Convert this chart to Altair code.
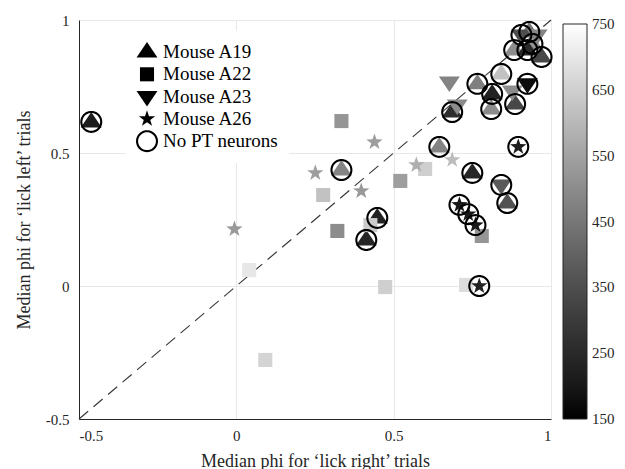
import altair as alt
import pandas as pd
import numpy as np

# ---------------- data ----------------
# Mouse A19 (triangle up)
a19_x = [-0.461, 0.334, 0.448, 0.413, 0.645, 0.750, 0.861, 0.686, 0.766, 0.842,
         0.813, 0.810, 0.886, 0.883, 0.931, 0.941, 0.925, 0.970]
a19_y = [0.617, 0.436, 0.256, 0.173, 0.523, 0.425, 0.312, 0.654, 0.760, 0.797,
         0.722, 0.665, 0.684, 0.887, 0.955, 0.910, 0.887, 0.861]
a19_v = [210, 480, 230, 240, 480, 240, 360, 260, 470, 620,
         230, 500, 330, 500, 450, 520, 250, 330]
a19_ring = [True] * 18

# Mouse A22 (square)
a22_x = [0.334, 0.276, 0.321, 0.426, 0.521, 0.600, 0.473, 0.041, 0.092, 0.780, 0.730]
a22_y = [0.620, 0.342, 0.207, 0.229, 0.395, 0.440, -0.004, 0.060, -0.278, 0.188, 0.004]
a22_v = [520, 620, 500, 640, 540, 650, 650, 700, 660, 520, 680]
a22_ring = [False] * 11

# Mouse A23 (triangle down)
a23_x = [0.677, 0.702, 0.877, 0.842, 0.925, 0.906, 0.956]
a23_y = [0.767, 0.680, 0.733, 0.380, 0.760, 0.944, 0.944]
a23_v = [480, 500, 500, 380, 170, 350, 480]
a23_ring = [False, False, False, True, True, True, False]

# Mouse A26 (star)
a26_x = [-0.006, 0.251, 0.397, 0.439, 0.572, 0.686, 0.896, 0.709, 0.737, 0.760, 0.772]
a26_y = [0.214, 0.425, 0.357, 0.541, 0.455, 0.474, 0.523, 0.305, 0.270, 0.229, 0.000]
a26_v = [530, 540, 530, 540, 580, 610, 220, 200, 200, 200, 230]
a26_ring = [False, False, False, False, False, False, True, True, True, True, True]

mice = ["Mouse A19", "Mouse A22", "Mouse A23", "Mouse A26"]
ring_label = "No PT neurons"
diag = [-0.5, 1.0]
x_ticks = [-0.5, 0, 0.5, 1]
y_ticks = [-0.5, 0, 0.5, 1]
cbar_ticks = [150, 250, 350, 450, 550, 650, 750]

# ---------------- marker shapes (SVG paths in unit coords) ----------------
def poly(pts):
    return "M" + "L".join(f"{px:.4f},{py:.4f}" for px, py in pts) + "Z"

tri_up = poly([(0, -0.9), (-0.95, 0.5), (0.95, 0.5)])
tri_down = poly([(0, 0.9), (0.95, -0.5), (-0.95, -0.5)])
sq = poly([(-0.64, -0.64), (0.64, -0.64), (0.64, 0.64), (-0.64, 0.64)])
star_pts = []
for k in range(10):
    r = 0.78 if k % 2 == 0 else 0.31
    a = -np.pi / 2 + k * np.pi / 5
    star_pts.append((r * np.cos(a), r * np.sin(a)))
star = poly(star_pts)
n = 48
outer = [(np.cos(2 * np.pi * k / n), np.sin(2 * np.pi * k / n)) for k in range(n)]
inner = [(0.81 * np.cos(-2 * np.pi * k / n), 0.81 * np.sin(-2 * np.pi * k / n)) for k in range(n)]
ring = poly(outer) + poly(inner)

shape_scale = alt.Scale(domain=mice + [ring_label], range=[tri_up, sq, tri_down, star, ring])

# ---------------- tables ----------------
rows = []
for name, xs, ys, vs, rs in [
    ("Mouse A19", a19_x, a19_y, a19_v, a19_ring),
    ("Mouse A22", a22_x, a22_y, a22_v, a22_ring),
    ("Mouse A23", a23_x, a23_y, a23_v, a23_ring),
    ("Mouse A26", a26_x, a26_y, a26_v, a26_ring),
]:
    for xv, yv, vv, rv in zip(xs, ys, vs, rs):
        rows.append({"x": xv, "y": yv, "val": vv, "mouse": name, "ring": rv})
df = pd.DataFrame(rows)
ring_df = df[df["ring"]].copy()
ring_df["mouse"] = ring_label
diag_df = pd.DataFrame({"dx": diag, "dy": diag})

FONT = "Liberation Serif"
TXT = "#262626"

xscale = alt.Scale(domain=[-0.5, 1], nice=False, zero=False)
yscale = alt.Scale(domain=[-0.5, 1], nice=False, zero=False)

x_enc = alt.X("x:Q", scale=xscale, axis=alt.Axis(
    values=x_ticks, labelExpr="toString(datum.value)",
    labelFont=FONT, labelFontSize=15,
    title="Median phi for \u2018lick right\u2019 trials"))
y_enc = alt.Y("y:Q", scale=yscale, axis=alt.Axis(
    values=y_ticks, labelExpr="toString(datum.value)",
    labelFont=FONT, labelFontSize=15,
    title="Median phi for \u2018lick left\u2019 trials"))

shape_legend = alt.Legend(
    title=None, orient="none", legendX=47, legendY=11, padding=10,
    fillColor="white", symbolSize=484, symbolFillColor="black",
    symbolStrokeWidth=0, symbolOpacity=1, labelFont=FONT, labelFontSize=19,
    labelColor="black", labelOffset=5, rowPadding=1.3)

line = alt.Chart(diag_df).mark_line(
    strokeDash=[12, 7], color="#333333", strokeWidth=1.1
).encode(
    x=alt.X("dx:Q", scale=xscale),
    y=alt.Y("dy:Q", scale=yscale),
)

markers = alt.Chart(df).mark_point(
    filled=True, opacity=1, size=484, strokeWidth=0
).encode(
    x=x_enc, y=y_enc,
    shape=alt.Shape("mouse:N", scale=shape_scale, legend=shape_legend),
    fill=alt.Fill("val:Q", scale=alt.Scale(domain=[149.5, 750.5], range=["black", "white"]),
                  legend=alt.Legend(
                      title=None, orient="none", legendX=484, legendY=4,
                      direction="vertical", gradientLength=395,
                      gradientThickness=24, values=cbar_ticks, padding=0,
                      labelFont=FONT, labelFontSize=15, labelColor=TXT,
                      labelOffset=5, labelOverlap=False,
                      gradientStrokeColor="#262626", gradientStrokeWidth=1)),
)

rings = alt.Chart(ring_df).mark_point(
    filled=True, opacity=1, size=484, strokeWidth=0, fill="black"
).encode(
    x=alt.X("x:Q", scale=xscale),
    y=alt.Y("y:Q", scale=yscale),
    shape=alt.Shape("mouse:N", scale=shape_scale, legend=shape_legend),
)

chart = alt.layer(line, markers, rings).properties(
    width=472, height=399,
    autosize=alt.AutoSizeParams(type="none"),
    padding={"left": 79, "top": 20, "right": 74, "bottom": 50},
    background="white",
).configure_view(
    stroke="#e8e8e8"
).configure_axis(
    grid=True, gridColor="#e8e8e8", gridWidth=1,
    domainColor=TXT, domainWidth=1, ticks=False,
    labelFont=FONT, labelFontSize=15, labelColor=TXT,
    titleFont=FONT, titleFontSize=18, titleColor=TXT, titleFontWeight="normal",
).configure_axisX(
    labelPadding=9, titlePadding=9
).configure_axisY(
    labelPadding=10, titlePadding=12
)

chart.save("out.html", embed_options={"renderer": "svg", "actions": False})
